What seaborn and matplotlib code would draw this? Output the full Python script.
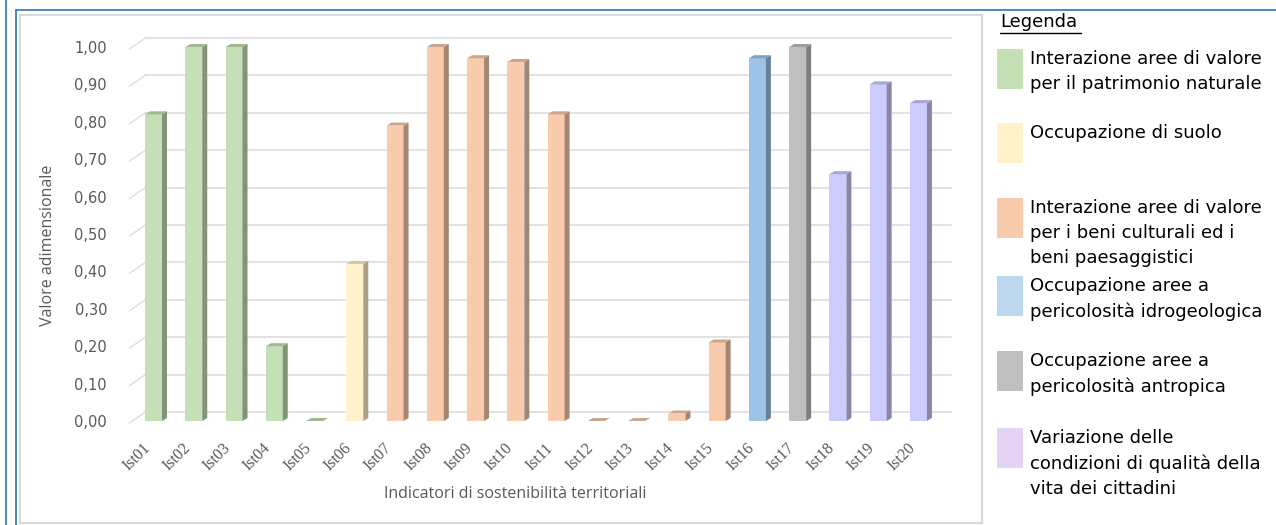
import numpy as np
import pandas as pd
import matplotlib
matplotlib.use("Agg")
import matplotlib.pyplot as plt
import matplotlib.colors as mcolors
from matplotlib.patches import Polygon, Rectangle
from matplotlib.lines import Line2D
import seaborn as sns

# dati
indicatori = ["Ist01", "Ist02", "Ist03", "Ist04", "Ist05", "Ist06", "Ist07", "Ist08", "Ist09", "Ist10",
              "Ist11", "Ist12", "Ist13", "Ist14", "Ist15", "Ist16", "Ist17", "Ist18", "Ist19", "Ist20"]
valori = [0.82, 1.00, 1.00, 0.20, 0.00, 0.42, 0.79, 1.00, 0.97, 0.96,
          0.82, 0.00, 0.00, 0.02, 0.21, 0.97, 1.00, 0.66, 0.90, 0.85]
gruppi = ["nat"] * 5 + ["suolo"] + ["cult"] * 9 + ["idro", "antr"] + ["vita"] * 3

gruppi_ordine = ["nat", "suolo", "cult", "idro", "antr", "vita"]
colori_barre = ["#C5E0B4", "#FFF2CC", "#F8CBAD", "#9DC3E6", "#BFBFBF", "#CCCCFF"]
colori_legenda = ["#C5E0B4", "#FFF2CC", "#F8CBAD", "#BDD7EE", "#BFBFBF", "#E2D4F2"]
voci_legenda = [
    "Interazione aree di valore\nper il patrimonio naturale",
    "Occupazione di suolo",
    "Interazione aree di valore\nper i beni culturali ed i\nbeni paesaggistici",
    "Occupazione aree a\npericolosità idrogeologica",
    "Occupazione aree a\npericolosità antropica",
    "Variazione delle\ncondizioni di qualità della\nvita dei cittadini",
]
# posizione verticale (px dall'alto) dei quadratini di legenda
legenda_top = [49, 123, 198, 276, 351, 428]

df = pd.DataFrame({"Indicatore": indicatori, "Valore": valori, "Gruppo": gruppi})

W, H = 1276, 525
sns.set_theme(style="white")
plt.rcParams["font.family"] = ["DejaVu Sans"]

fig = plt.figure(figsize=(W / 100, H / 100), dpi=100)


def fx(x):
    return x / W


def fy(y):
    return 1 - y / H


# area del grafico
ax_left, ax_right, ax_top, ax_bottom = 133.4, 938.6, 47, 421
ax = fig.add_axes([fx(ax_left), fy(ax_bottom), (ax_right - ax_left) / W, (ax_bottom - ax_top) / H])

sns.barplot(data=df, x="Indicatore", y="Valore", hue="Gruppo", hue_order=gruppi_ordine,
            palette=colori_barre, saturation=1, dodge=False, width=0.42, legend=False, ax=ax,
            linewidth=0, zorder=3)
ax.set_xlim(-0.5, 19.5)
ax.set_ylim(0, 1.0)
for s in ax.spines.values():
    s.set_visible(False)
ax.grid(False)

px_x = (ax_right - ax_left) / 20.0
px_y = (ax_bottom - ax_top) / 1.0

# effetto 3D delle barre (lato e faccia superiore)
dx, dy = 5 / px_x, 3 / px_y
for p in ax.patches:
    x0, w, h = p.get_x(), p.get_width(), p.get_height()
    if w == 0 or np.isnan(h):
        continue
    c = np.array(mcolors.to_rgb(p.get_facecolor()))
    lato = c * 0.66
    sopra = c * 0.82
    ax.add_patch(Polygon([(x0 + w, 0), (x0 + w + dx, dy), (x0 + w + dx, h + dy), (x0 + w, h)],
                         closed=True, facecolor=lato, edgecolor="none", zorder=3, clip_on=False))
    ax.add_patch(Polygon([(x0, h), (x0 + dx, h + dy), (x0 + w + dx, h + dy), (x0 + w, h)],
                         closed=True, facecolor=sopra, edgecolor="none", zorder=3, clip_on=False))

# griglia sulla parete di fondo
gdx, gdy = 12 / px_x, 9 / px_y
ticks = np.round(np.arange(0, 1.01, 0.1), 2)
for t in ticks:
    ax.plot([-0.5 + gdx, 19.5 + gdx], [t + gdy, t + gdy], color="#DDDDDD", lw=1.2,
            zorder=1, clip_on=False)
    ax.plot([-0.5 - 4 / px_x, -0.5 + gdx], [t - 2 / px_y, t + gdy], color="#DDDDDD", lw=1.0,
            zorder=1, clip_on=False)

ax.set_yticks(ticks)
ax.set_yticklabels([f"{t:.2f}".replace(".", ",") for t in ticks], color="#595959", fontsize=10.5)
ax.tick_params(axis="y", length=0, pad=19)
ax.tick_params(axis="x", length=0, pad=14)
ax.set_xticks(range(len(indicatori)))
ax.set_xticklabels(indicatori, rotation=45, ha="right", va="top", color="#595959",
                   fontsize=11.5, family="Liberation Serif")
ax.set_xlabel("")
ax.set_ylabel("")

fig.text(fx(48), fy(245), "Valore adimensionale", rotation=90, ha="center", va="center",
         color="#595959", fontsize=11.5, family="Open Sans")
fig.text(fx(515), fy(494), "Indicatori di sostenibilità territoriali", ha="center", va="center",
         color="#595959", fontsize=11.5, family="Open Sans")

# cornici
fig.add_artist(Rectangle((fx(20), fy(523)), (982 - 20) / W, (523 - 15) / H, transform=fig.transFigure,
                         facecolor="none", edgecolor="#D9D9D9", lw=1.5))
fig.add_artist(Line2D([fx(6), fx(6)], [0, 1], transform=fig.transFigure, color="#2E75B6", lw=1.2))
fig.add_artist(Line2D([fx(16), fx(16)], [0, fy(10)], transform=fig.transFigure, color="#2E75B6", lw=1.2))
fig.add_artist(Line2D([fx(16), 1], [fy(10), fy(10)], transform=fig.transFigure, color="#2E75B6", lw=1.2))

# legenda a destra
fig.text(fx(1000), fy(22), "Legenda", ha="left", va="center", fontsize=13, color="black")
fig.add_artist(Line2D([fx(1000), fx(1081)], [fy(33), fy(33)], transform=fig.transFigure,
                      color="black", lw=1.0))
for top, col, txt in zip(legenda_top, colori_legenda, voci_legenda):
    fig.add_artist(Rectangle((fx(997), fy(top + 40)), 26 / W, 40 / H, transform=fig.transFigure,
                             facecolor=col, edgecolor="none"))
    fig.text(fx(1030), fy(top + 1), txt, ha="left", va="top", fontsize=13, color="black",
             linespacing=1.5)

fig.savefig("out.png", dpi=100)
